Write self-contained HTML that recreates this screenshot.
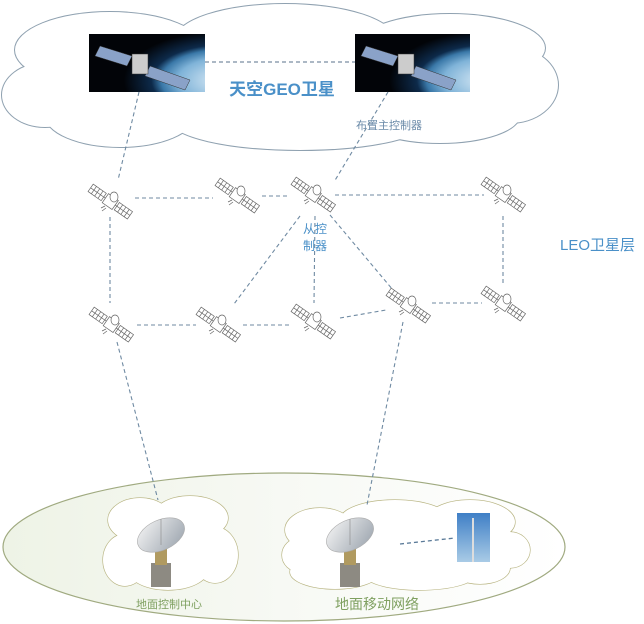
<!DOCTYPE html>
<html><head><meta charset="utf-8"><style>
html,body{margin:0;padding:0;background:#fff;}
svg{display:block;font-family:"Liberation Sans","Noto Sans CJK SC",sans-serif;}
</style></head><body>
<svg width="644" height="624" viewBox="0 0 644 624" xmlns="http://www.w3.org/2000/svg">
<defs>
<linearGradient id="gnd" x1="0" y1="0" x2="1" y2="0">
<stop offset="0" stop-color="#eef3e6"/><stop offset="0.5" stop-color="#f7f9f4"/><stop offset="1" stop-color="#ffffff"/>
</linearGradient>
<radialGradient id="earth" cx="1.15" cy="0.8" r="0.85">
<stop offset="0" stop-color="#e0eef8"/><stop offset="0.45" stop-color="#7fb3d8"/><stop offset="0.62" stop-color="#3a78a8"/><stop offset="0.72" stop-color="#0d2a4a"/><stop offset="1" stop-color="#020408"/>
</radialGradient>
<linearGradient id="dish" x1="0" y1="0" x2="1" y2="1">
<stop offset="0" stop-color="#f4f4f4"/><stop offset="1" stop-color="#9aa3ad"/>
</linearGradient>
<linearGradient id="sky" x1="0" y1="0" x2="0" y2="1">
<stop offset="0" stop-color="#3f7fc6"/><stop offset="1" stop-color="#a9cbe6"/>
</linearGradient>
<g id="sat" stroke="#666" stroke-width="0.7" fill="#fff">
<g transform="rotate(35)">
<rect x="-24" y="-5" width="16" height="9"/>
<line x1="-20" y1="-5" x2="-20" y2="4"/><line x1="-16" y1="-5" x2="-16" y2="4"/><line x1="-12" y1="-5" x2="-12" y2="4"/>
<line x1="-24" y1="-0.5" x2="-8" y2="-0.5"/>
<rect x="8" y="-5" width="16" height="9"/>
<line x1="12" y1="-5" x2="12" y2="4"/><line x1="16" y1="-5" x2="16" y2="4"/><line x1="20" y1="-5" x2="20" y2="4"/>
<line x1="8" y1="-0.5" x2="24" y2="-0.5"/>
<rect x="-6" y="-6" width="12" height="11"/>
<line x1="-8" y1="-0.5" x2="-6" y2="-0.5"/><line x1="6" y1="-0.5" x2="8" y2="-0.5"/>
</g>
<ellipse cx="4" cy="-5" rx="4" ry="5"/>
<line x1="-5" y1="4" x2="-9" y2="6"/><line x1="-4" y1="6" x2="-8" y2="9"/>
</g>
<g id="dishg">
<rect x="-10" y="28" width="20" height="24" fill="#8d8a82"/>
<rect x="-6" y="12" width="12" height="18" fill="#b09a60"/>
<ellipse cx="0" cy="0" rx="25" ry="15" fill="url(#dish)" stroke="#aaa" stroke-width="0.6" transform="rotate(-25)"/>
<line x1="0" y1="-16" x2="0" y2="10" stroke="#888" stroke-width="0.6"/>
</g>
</defs>

<!-- top cloud -->
<g stroke="#8fa1b0" stroke-width="2" fill="#fff">
<ellipse cx="110" cy="50" rx="95" ry="38"/>
<ellipse cx="285" cy="40" rx="110" ry="36"/>
<ellipse cx="450" cy="48" rx="95" ry="34"/>
<ellipse cx="510" cy="85" rx="48" ry="38"/>
<ellipse cx="45" cy="95" rx="43" ry="32"/>
<ellipse cx="120" cy="115" rx="75" ry="32"/>
<ellipse cx="300" cy="120" rx="130" ry="30"/>
<ellipse cx="440" cy="115" rx="80" ry="28"/>
</g>
<g fill="#fff">
<ellipse cx="110" cy="50" rx="95" ry="38"/>
<ellipse cx="285" cy="40" rx="110" ry="36"/>
<ellipse cx="450" cy="48" rx="95" ry="34"/>
<ellipse cx="510" cy="85" rx="48" ry="38"/>
<ellipse cx="45" cy="95" rx="43" ry="32"/>
<ellipse cx="120" cy="115" rx="75" ry="32"/>
<ellipse cx="300" cy="120" rx="130" ry="30"/>
<ellipse cx="440" cy="115" rx="80" ry="28"/>
<rect x="80" y="50" width="400" height="80"/>
</g>

<!-- GEO images -->
<rect x="89" y="34" width="116" height="58" fill="url(#earth)"/>
<rect x="355" y="34" width="115" height="58" fill="url(#earth)"/>
<g fill="#8aa2c8" stroke="#333" stroke-width="0.5">
<polygon points="100,46 132,56 127,66 95,56"/><polygon points="150,66 190,80 185,90 145,76"/><rect x="132" y="54" width="16" height="20" fill="#ccc"/>
<polygon points="366,46 398,56 393,66 361,56"/><polygon points="416,66 456,80 451,90 411,76"/><rect x="398" y="54" width="16" height="20" fill="#ccc"/>
</g>
<line x1="205" y1="62" x2="355" y2="62" stroke="#7a8ea2" stroke-width="1.2" stroke-dasharray="4,3"/>
<text x="282" y="95" text-anchor="middle" font-size="17" font-weight="bold" fill="#4a90c8">天空GEO卫星</text>
<text x="389" y="129" text-anchor="middle" font-size="11" fill="#6a8aa8">布置主控制器</text>

<!-- ground ellipse -->
<ellipse cx="284" cy="547" rx="281" ry="74" fill="url(#gnd)" stroke="#a0aa80" stroke-width="1.2"/>

<!-- ground clouds -->
<g stroke="#b6b27e" stroke-width="1.2" fill="#fff">
<ellipse cx="140" cy="520" rx="32" ry="22"/><ellipse cx="190" cy="518" rx="38" ry="22"/>
<ellipse cx="125" cy="560" rx="22" ry="26"/><ellipse cx="215" cy="555" rx="23" ry="28"/>
<ellipse cx="168" cy="570" rx="40" ry="20"/>
<ellipse cx="320" cy="530" rx="35" ry="22"/><ellipse cx="395" cy="520" rx="55" ry="20"/><ellipse cx="470" cy="522" rx="45" ry="22"/>
<ellipse cx="300" cy="555" rx="18" ry="17"/><ellipse cx="510" cy="550" rx="20" ry="18"/>
<ellipse cx="335" cy="572" rx="45" ry="17"/><ellipse cx="420" cy="575" rx="55" ry="15"/><ellipse cx="480" cy="568" rx="30" ry="16"/>
</g>
<g fill="#fff">
<ellipse cx="140" cy="520" rx="32" ry="22"/><ellipse cx="190" cy="518" rx="38" ry="22"/>
<ellipse cx="125" cy="560" rx="22" ry="26"/><ellipse cx="215" cy="555" rx="23" ry="28"/>
<ellipse cx="168" cy="570" rx="40" ry="20"/><rect x="125" y="520" width="90" height="50"/>
<ellipse cx="320" cy="530" rx="35" ry="22"/><ellipse cx="395" cy="520" rx="55" ry="20"/><ellipse cx="470" cy="522" rx="45" ry="22"/>
<ellipse cx="300" cy="555" rx="18" ry="17"/><ellipse cx="510" cy="550" rx="20" ry="18"/>
<ellipse cx="335" cy="572" rx="45" ry="17"/><ellipse cx="420" cy="575" rx="55" ry="15"/><ellipse cx="480" cy="568" rx="30" ry="16"/>
<rect x="305" y="530" width="200" height="42"/>
</g>
<use href="#dishg" transform="translate(161,535)"/>
<use href="#dishg" transform="translate(350,535)"/>
<rect x="457" y="513" width="33" height="49" fill="url(#sky)"/>
<line x1="473" y1="518" x2="473" y2="562" stroke="#ddd" stroke-width="2"/>
<line x1="400" y1="544" x2="455" y2="538" stroke="#5a7a98" stroke-width="1.3" stroke-dasharray="4,3"/>
<text x="169" y="608" text-anchor="middle" font-size="11" fill="#7fa060">地面控制中心</text>
<text x="377" y="609" text-anchor="middle" font-size="14" fill="#7fa060">地面移动网络</text>

<!-- dashed links -->
<g stroke="#6f8aa2" stroke-width="1.1" stroke-dasharray="4,3" fill="none">
<line x1="139" y1="92" x2="118" y2="180"/>
<line x1="388" y1="92" x2="334" y2="182"/>
<line x1="135" y1="198" x2="213" y2="198"/>
<line x1="262" y1="196" x2="290" y2="196"/>
<line x1="335" y1="195" x2="484" y2="195"/>
<line x1="503" y1="216" x2="503" y2="286"/>
<line x1="110" y1="217" x2="110" y2="303"/>
<line x1="137" y1="325" x2="196" y2="325"/>
<line x1="243" y1="325" x2="290" y2="325"/>
<line x1="340" y1="318" x2="386" y2="310"/>
<line x1="432" y1="303" x2="482" y2="303"/>
<line x1="300" y1="216" x2="234" y2="304"/>
<line x1="315" y1="216" x2="314" y2="303"/>
<line x1="330" y1="215" x2="393" y2="290"/>
<line x1="117" y1="342" x2="158" y2="500"/>
<line x1="403" y1="322" x2="367" y2="505"/>
</g>

<!-- satellites -->
<use href="#sat" transform="translate(110,202)"/>
<use href="#sat" transform="translate(237,196)"/>
<use href="#sat" transform="translate(313,195)"/>
<use href="#sat" transform="translate(503,195)"/>
<use href="#sat" transform="translate(111,325)"/>
<use href="#sat" transform="translate(218,325)"/>
<use href="#sat" transform="translate(313,322)"/>
<use href="#sat" transform="translate(408,306)"/>
<use href="#sat" transform="translate(503,304)"/>

<text x="315" y="233" text-anchor="middle" font-size="12" fill="#4a90c8">从控</text>
<text x="315" y="250" text-anchor="middle" font-size="12" fill="#4a90c8">制器</text>
<text x="560" y="250" font-size="15" fill="#4a90c8">LEO卫星层</text>
</svg>
</body></html>
